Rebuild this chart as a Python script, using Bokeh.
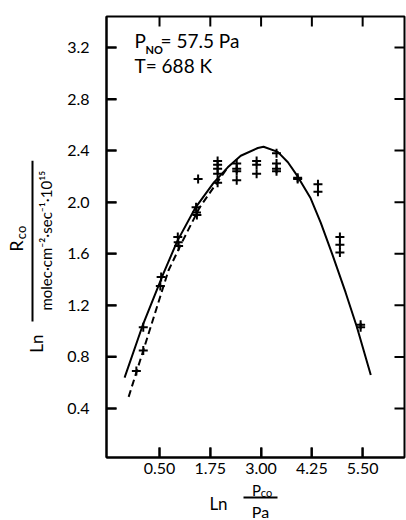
import math
from bokeh.plotting import figure
from bokeh.layouts import column, row
from bokeh.models import Range1d, LinearAxis, FixedTicker, Label
from bokeh.embed import file_html
from bokeh.resources import INLINE

# ---- data ----
pt_x = [-0.07, 0.10, 0.10, 0.52, 0.54, 0.95, 0.96, 0.97, 1.40, 1.41, 1.42, 1.45,
        1.93, 1.93, 1.93, 1.93, 1.93, 2.40, 2.40, 2.40, 2.40, 2.89, 2.89, 2.89,
        3.38, 3.38, 3.38, 3.38, 3.90, 3.90, 4.40, 4.40, 4.94, 4.94, 4.94, 5.45, 5.45]
pt_y = [0.69, 0.85, 1.03, 1.35, 1.42, 1.73, 1.69, 1.66, 1.96, 1.92, 1.90, 2.18,
        2.32, 2.29, 2.26, 2.22, 2.15, 2.30, 2.26, 2.24, 2.17, 2.32, 2.29, 2.22,
        2.38, 2.30, 2.26, 2.24, 2.19, 2.18, 2.14, 2.08, 1.73, 1.67, 1.61, 1.05, 1.03]

solid_x = [-0.36, 0.08, 0.60, 0.94, 1.39, 1.83, 2.18, 2.50, 2.92, 3.06, 3.41,
           3.66, 3.90, 4.22, 4.47, 4.76, 5.08, 5.36, 5.70]
solid_y = [0.64, 1.04, 1.45, 1.70, 1.96, 2.15, 2.27, 2.36, 2.42, 2.43, 2.39,
           2.31, 2.20, 2.03, 1.84, 1.59, 1.30, 1.03, 0.66]

dash_x = [-0.26, 0.11, 0.72, 1.07, 1.49, 1.91, 2.18]
dash_y = [0.49, 0.86, 1.47, 1.70, 1.96, 2.15, 2.27]

x_ticks = [0.50, 1.75, 3.00, 4.25, 5.50]
x_tick_labels = ["0.50", "1.75", "3.00", "4.25", "5.50"]
y_ticks = [0.4, 0.8, 1.2, 1.6, 2.0, 2.4, 2.8, 3.2]
y_tick_labels = ["0.4", "0.8", "1.2", "1.6", "2.0", "2.4", "2.8", "3.2"]

# ---- layout ----
W, H = 406, 520
YT_W = 58           # width of the y-title strip
XT_H = 40           # height of the x-title strip
MAIN_W, MAIN_H = W - YT_W, H - XT_H
L, R, T, B = 106, 404, 16, 457      # frame edges in page pixels
X0, X1 = -0.805, 6.53
Y0, Y1 = 0.02, 3.44
FONT = "Lato"
TICK = 10  # inward tick length, px

p = figure(width=MAIN_W, height=MAIN_H, output_backend="svg", toolbar_location=None,
           x_range=Range1d(X0, X1), y_range=Range1d(Y0, Y1),
           x_axis_type=None, y_axis_type=None,
           min_border_left=L - YT_W, min_border_right=W - R,
           min_border_top=T, min_border_bottom=MAIN_H - B)
p.background_fill_color = "white"
p.border_fill_color = "white"
p.outline_line_color = "black"
p.outline_line_width = 2
p.xgrid.visible = False
p.ygrid.visible = False


def style_axis(ax, ticks, labels, standoff):
    ax.ticker = FixedTicker(ticks=ticks)
    ax.major_tick_in = TICK
    ax.major_tick_out = 0
    ax.major_tick_line_width = 2
    ax.major_tick_line_color = "black"
    ax.minor_tick_line_color = None
    ax.axis_line_width = 2
    ax.axis_line_color = "black"
    ax.major_label_overrides = {t: s for t, s in zip(ticks, labels)}
    ax.major_label_text_font = FONT
    ax.major_label_text_font_size = "16px"
    ax.major_label_text_color = "black"
    ax.major_label_standoff = standoff


xb = LinearAxis()
style_axis(xb, x_ticks, x_tick_labels, 5)
p.add_layout(xb, "below")

yl = LinearAxis()
style_axis(yl, y_ticks, y_tick_labels, 17)
p.add_layout(yl, "left")

# inward tick marks on all four sides, at the tick values
dx = TICK / (R - L) * (X1 - X0)
dy = TICK / (B - T) * (Y1 - Y0)
p.segment(x0=x_ticks, y0=[Y0] * len(x_ticks), x1=x_ticks, y1=[Y0 + dy] * len(x_ticks),
          line_color="black", line_width=2)
p.segment(x0=x_ticks, y0=[Y1] * len(x_ticks), x1=x_ticks, y1=[Y1 - dy] * len(x_ticks),
          line_color="black", line_width=2)
p.segment(x0=[X0] * len(y_ticks), y0=y_ticks, x1=[X0 + dx] * len(y_ticks), y1=y_ticks,
          line_color="black", line_width=2)
p.segment(x0=[X1] * len(y_ticks), y0=y_ticks, x1=[X1 - dx] * len(y_ticks), y1=y_ticks,
          line_color="black", line_width=2)

# ---- marks ----
p.line(solid_x, solid_y, line_color="black", line_width=2)
p.line(dash_x, dash_y, line_color="black", line_width=2, line_dash="7 4")
p.scatter(pt_x, pt_y, marker="cross", size=9, line_width=2, line_color="black")


def main_x(px):
    return X0 + (px - L) / (R - L) * (X1 - X0)


def main_y(py):
    return Y0 + (B - py) / (B - T) * (Y1 - Y0)


def lab(fig, text, x, y, size, angle=0.0, align="center", style="normal"):
    fig.add_layout(Label(x=x, y=y, text=text, angle=angle,
                         text_font=FONT, text_font_size=f"{size}px",
                         text_color="black", text_align=align,
                         text_baseline="middle", text_font_style=style))


# annotation inside the plot
lab(p, "P", main_x(134), main_y(40), 19, align="left")
lab(p, "NO", main_x(145), main_y(49), 11, align="left", style="bold")
lab(p, "= 57.5 Pa", main_x(160), main_y(40), 19, align="left")
lab(p, "T= 688 K", main_x(134), main_y(65), 19, align="left")


def strip(width, height, top):
    f = figure(width=width, height=height, output_backend="svg", toolbar_location=None,
               x_range=Range1d(0, width), y_range=Range1d(top + height, top),
               x_axis_type=None, y_axis_type=None,
               min_border=0, min_border_left=0, min_border_right=0,
               min_border_top=0, min_border_bottom=0)
    f.outline_line_color = None
    f.xgrid.visible = False
    f.ygrid.visible = False
    f.background_fill_color = "white"
    f.border_fill_color = "white"
    return f


# y-axis title: Ln (R_co / molec.cm-2.sec-1.10^15), rotated
yt = strip(YT_W, MAIN_H, 0)
rot = math.pi / 2
lab(yt, "Ln", 36, 356, 17, angle=rot)
yt.line([32, 32], [157, 332], line_color="black", line_width=2)
lab(yt, "R", 15, 250, 18, angle=rot)
lab(yt, "co", 20, 235, 13, angle=rot)
lab(yt, "molec\u00b7cm\u207b\u00b2\u00b7sec\u207b\u00b9\u00b710\u00b9\u2075", 45, 244, 15, angle=rot)

# x-axis title: Ln (P_co / Pa)
xtit = strip(W, XT_H, MAIN_H)
lab(xtit, "Ln", 218, 503, 17)
xtit.line([243, 277], [497, 497], line_color="black", line_width=2)
lab(xtit, "P", 256, 489, 15)
lab(xtit, "co", 266, 492, 11)
lab(xtit, "Pa", 260, 511, 16)

layout = column(row(yt, p), xtit)
open("out.html", "w").write(file_html(layout, INLINE))
